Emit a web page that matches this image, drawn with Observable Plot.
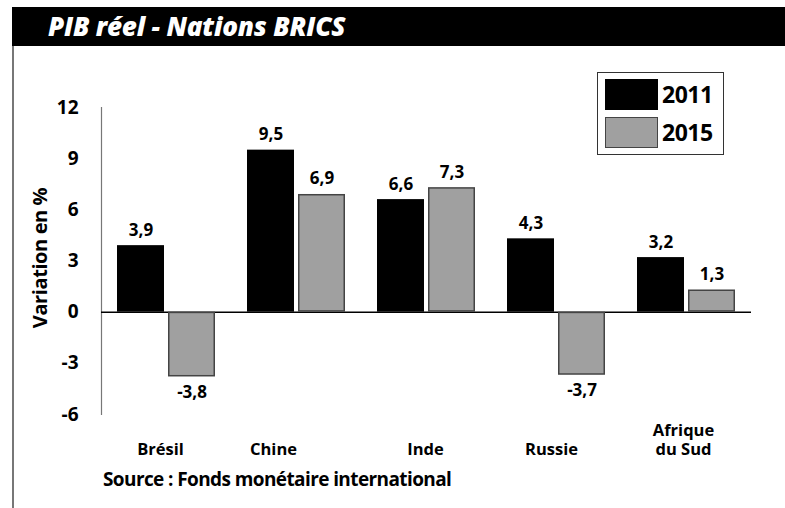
<!DOCTYPE html>
<html>
<head>
<meta charset="utf-8">
<script src="https://cdn.jsdelivr.net/npm/d3@7"></script>
<script src="https://cdn.jsdelivr.net/npm/@observablehq/plot@0.6"></script>
<style>
  body { margin: 0; background: #fff; }
  #wrap { position: relative; width: 785px; height: 508px; overflow: hidden; background: #fff; font-family: "Open Sans", Lato, sans-serif; }
  #title { position: absolute; left: 12px; top: 7px; width: 773px; height: 39px; background: #000; color: #fff;
           font-weight: 800; font-style: italic; font-size: 26px; line-height: 39px; padding-left: 36px; box-sizing: border-box; letter-spacing: -0.2px; }
  #leftline { position: absolute; left: 12px; top: 46px; width: 1.5px; height: 462px; background: #777; }
  #chart { position: absolute; left: 0; top: 0; }
  #ylabel { position: absolute; left: 39px; top: 258px; transform: translate(-50%, -50%) rotate(-90deg); white-space: nowrap;
            font-size: 20px; font-weight: 700; color: #000; letter-spacing: -0.4px; }
  #legend { position: absolute; left: 597px; top: 72px; width: 127px; height: 83px; border: 1px solid #333; box-sizing: border-box; background: #fff; }
  .sw { position: absolute; left: 7px; width: 53px; height: 31px; box-sizing: border-box; }
  .lt { position: absolute; left: 64px; font-size: 23px; font-weight: 700; line-height: 31px; letter-spacing: -0.5px; }
  #source { position: absolute; left: 103px; top: 466px; font-size: 19px; font-weight: 700; letter-spacing: -0.6px; }
  #chart svg text { font-family: "Open Sans", Lato, sans-serif; }
</style>
</head>
<body>
<div id="wrap">
  <div id="title">PIB réel - Nations BRICS</div>
  <div id="leftline"></div>
  <div id="chart"></div>
  <div id="ylabel">Variation en %</div>
  <div id="legend">
    <div class="sw" style="top:6px;background:#000;"></div>
    <div class="lt" style="top:6px;">2011</div>
    <div class="sw" style="top:44px;background:#a0a0a0;border:1.5px solid #444;"></div>
    <div class="lt" style="top:44px;">2015</div>
  </div>
  <div id="source">Source : Fonds monétaire international</div>
</div>
<script>
const countries = ["Brésil", "Chine", "Inde", "Russie", "Afrique du Sud"];
const countryLabels = ["Brésil", "Chine", "Inde", "Russie", "Afrique\ndu Sud"];
const years = ["2011", "2015"];
const values2011 = [3.9, 9.5, 6.6, 4.3, 3.2];
const values2015 = [-3.8, 6.9, 7.3, -3.7, 1.3];
const yTicks = [-6, -3, 0, 3, 6, 9, 12];

const data = [];
countries.forEach((c, i) => {
  data.push({country: c, year: years[0], value: values2011[i]});
  data.push({country: c, year: years[1], value: values2015[i]});
});
const fmt = v => String(v).replace(".", ",");
const labelShift = {"Brésil": -6, "Chine": -23, "Inde": -1, "Russie": -5, "Afrique du Sud": -3};

const chart = Plot.plot({
  width: 785,
  height: 508,
  marginLeft: 99,
  marginRight: 33,
  marginTop: 107,
  marginBottom: 94,
  style: {fontFamily: "'Open Sans', Lato, sans-serif", background: "transparent", color: "#000"},
  fx: {domain: countries, paddingInner: 0, paddingOuter: 0, axis: null, label: null},
  x: {domain: years, paddingInner: 0.077, paddingOuter: 0.296, axis: null, label: null},
  y: {domain: [-6, 12], label: null},
  marks: [
    Plot.frame({anchor: "left", facetAnchor: "left", stroke: "#777", strokeWidth: 1.2}),
    Plot.axisY(yTicks, {tickSize: 0, tickPadding: 23, fontSize: 19, fontWeight: 700, label: null,
      tickFormat: d => String(d)}),
    Plot.ruleY([0], {stroke: "#000", strokeWidth: 1.5}),
    Plot.barY(data.filter(d => d.year === years[0]), {fx: "country", x: "year", y: "value", fill: "#000", inset: 0}),
    Plot.barY(data.filter(d => d.year === years[1]), {fx: "country", x: "year", y: "value", fill: "#a0a0a0", stroke: "#444", strokeWidth: 1.5, inset: 0.75}),
    Plot.text(data.filter(d => d.value >= 0), {fx: "country", x: "year", y: "value", text: d => fmt(d.value),
      lineAnchor: "bottom", dy: -10, fontSize: 17, fontWeight: 700}),
    Plot.text(data.filter(d => d.value < 0), {fx: "country", x: "year", y: "value", text: d => fmt(d.value),
      lineAnchor: "top", dy: 9, fontSize: 17, fontWeight: 700}),
    ...countries.map((c, i) => Plot.text([c], {fx: d => d, text: () => countryLabels[i], frameAnchor: "bottom",
      lineAnchor: "bottom", dy: 40, dx: labelShift[c], fontSize: 16.5, fontWeight: 700, lineHeight: 1.15}))
  ]
});
document.getElementById("chart").appendChild(chart);
</script>
</body>
</html>
